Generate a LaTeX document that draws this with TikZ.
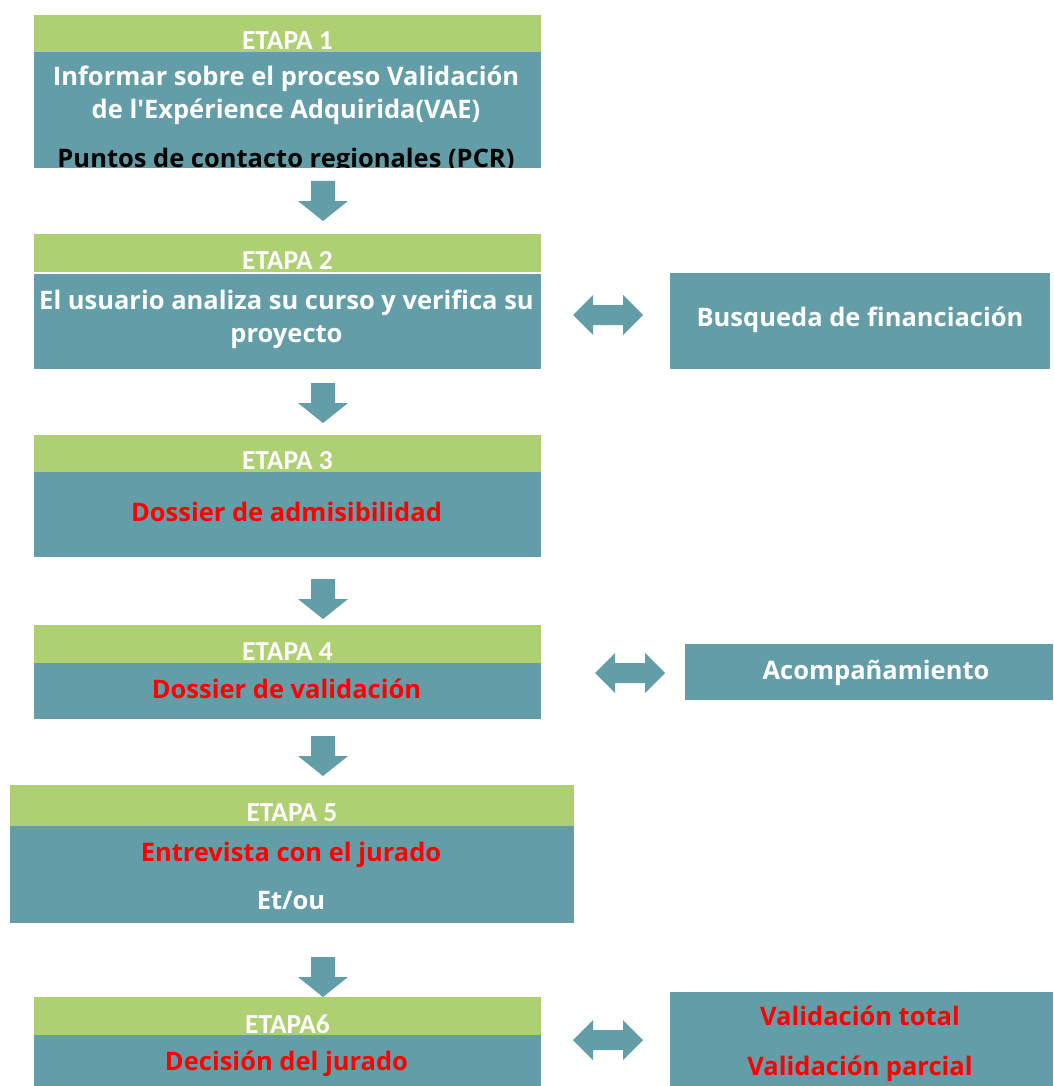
\documentclass[tikz,border=0pt]{standalone}
\usepackage{fontspec}
\setmainfont{Open Sans}[Ligatures=TeXOff]
\newfontfamily\etapafont{Carlito}
\definecolor{tealbox}{HTML}{639EA8}
\definecolor{bandgreen}{HTML}{AECF72}
\definecolor{redtext}{HTML}{FF0000}
\begin{document}
\begin{tikzpicture}[x=1pt,y=-1pt,
  band/.style={fill=bandgreen,draw=none,inner sep=0pt,outer sep=0pt,anchor=north west},
  body/.style={fill=tealbox,draw=none,inner sep=0pt,outer sep=0pt,anchor=north west},
  etapa/.style={anchor=base,inner sep=0pt,text=white,font=\etapafont\bfseries\fontsize{27.4}{32}\selectfont},
  txt/.style={anchor=base,inner sep=0pt,text=white,font=\bfseries\fontsize{25.5}{30}\selectfont},
  redtxt/.style={txt,text=redtext},
  blacktxt/.style={txt,text=black},
  downblock/.pic={\fill[tealbox] (-12,0) -- (12,0) -- (12,20) -- (25,20) -- (0,40) -- (-25,20) -- (-12,20) -- cycle;},
  dblblock/.pic={\fill[tealbox] (-35,0) -- (-15,-20) -- (-15,-10) -- (15,-10) -- (15,-20) -- (35,0) -- (15,20) -- (15,10) -- (-15,10) -- (-15,20) -- cycle;},
]
\useasboundingbox[fill=white] (0,0) rectangle (1053,1086);

% Etapa 1
\node[band,minimum width=507pt,minimum height=37pt] (g1) at (34,15) {};
\node[body,minimum width=507pt,minimum height=116pt] (b1) at (34,52) {};
\node[etapa] (e1) at (287.5,49.5) {ETAPA 1};
\node[txt] (b1l1) at (286,86) {Informar sobre el proceso Validación};
\node[txt] (b1l2) at (286,119) {de l'Expérience Adquirida(VAE)};
\begin{scope}
\clip (b1.north west) rectangle (b1.south east);
\node[blacktxt] (b1l3) at (286,167.5) {Puntos de contacto regionales (PCR)};
\end{scope}

% Etapa 2
\node[band,minimum width=507pt,minimum height=38pt] (g2) at (34,234) {};
\node[body,minimum width=507pt,minimum height=95pt] (b2) at (34,274) {};
\node[etapa] (e2) at (287.5,269.5) {ETAPA 2};
\node[txt] (b2l1) at (286.5,309) {El usuario analiza su curso y verifica su};
\node[txt] (b2l2) at (286.5,342) {proyecto};

\node[body,minimum width=380pt,minimum height=96pt] (fin) at (670,273) {};
\node[txt] (finl) at (860,326) {Busqueda de financiación};

% Etapa 3
\node[band,minimum width=507pt,minimum height=37pt] (g3) at (34,435) {};
\node[body,minimum width=507pt,minimum height=85pt] (b3) at (34,472) {};
\node[etapa] (e3) at (287.5,469.5) {ETAPA 3};
\node[redtxt] (b3l1) at (286.5,521) {Dossier de admisibilidad};

% Etapa 4
\node[band,minimum width=507pt,minimum height=38pt] (g4) at (34,625) {};
\node[body,minimum width=507pt,minimum height=56pt] (b4) at (34,663) {};
\node[etapa] (e4) at (287.5,660) {ETAPA 4};
\node[redtxt] (b4l1) at (286.5,698) {Dossier de validación};

\node[body,minimum width=368pt,minimum height=56pt] (acc) at (685,644) {};
\node[txt] (accl) at (876,679) {Acompañamiento};

% Etapa 5
\node[band,minimum width=564pt,minimum height=41pt] (g5) at (10,785) {};
\node[body,minimum width=564pt,minimum height=97pt] (b5) at (10,826) {};
\node[etapa] (e5) at (292,821) {ETAPA 5};
\node[redtxt] (b5l1) at (291,861) {Entrevista con el jurado};
\node[txt] (b5l2) at (291,909) {Et/ou};

% Etapa 6
\node[band,minimum width=507pt,minimum height=38pt] (g6) at (34,997) {};
\node[body,minimum width=507pt,minimum height=51pt] (b6) at (34,1035) {};
\node[etapa] (e6) at (287.5,1033) {ETAPA6};
\node[redtxt] (b6l1) at (286.5,1070) {Decisión del jurado};

\node[body,minimum width=383pt,minimum height=94pt] (val) at (670,992) {};
\node[redtxt] (vall1) at (860,1025) {Validación total};
\node[redtxt] (vall2) at (860,1075) {Validación parcial};

% block arrows
\pic at (323,181) {downblock};
\pic at (323,383) {downblock};
\pic at (323,579) {downblock};
\pic at (323,736) {downblock};
\pic at (323,957) {downblock};
\pic at (608,315) {dblblock};
\pic at (630,673) {dblblock};
\pic at (608,1040) {dblblock};
\end{tikzpicture}
\end{document}
